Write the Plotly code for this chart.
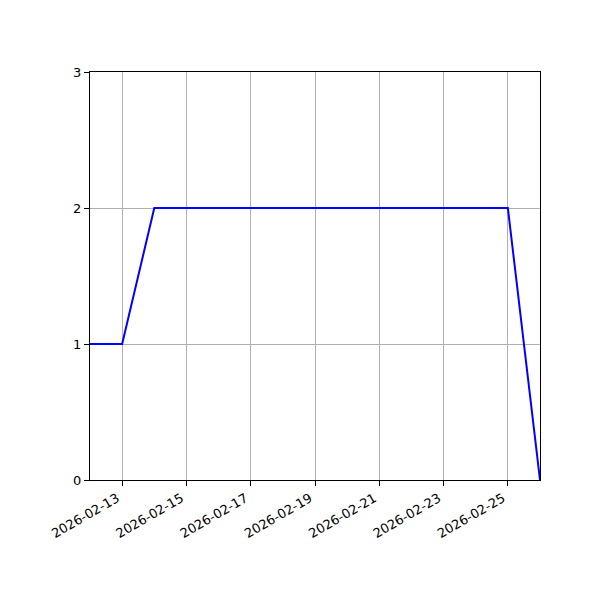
import plotly.graph_objects as go

dates = ["2026-02-12", "2026-02-13", "2026-02-14", "2026-02-15", "2026-02-16",
         "2026-02-17", "2026-02-18", "2026-02-19", "2026-02-20", "2026-02-21",
         "2026-02-22", "2026-02-23", "2026-02-24", "2026-02-25", "2026-02-26"]
values = [1, 1, 2, 2, 2, 2, 2, 2, 2, 2, 2, 2, 2, 2, 0]
x_ticks = ["2026-02-13", "2026-02-15", "2026-02-17", "2026-02-19",
           "2026-02-21", "2026-02-23", "2026-02-25"]
y_ticks = [0, 1, 2, 3]

fig = go.Figure()
fig.add_trace(go.Scatter(x=dates, y=values, mode="lines",
                         line=dict(color="blue", width=2), showlegend=False))

# page body has an 8px default margin, so offset the plot margins accordingly
fig.update_layout(
    width=600, height=600,
    margin=dict(l=82, r=68, t=64, b=128, autoexpand=False),
    paper_bgcolor="white", plot_bgcolor="white",
    font=dict(family="DejaVu Sans", size=13, color="black"),
)
fig.update_xaxes(
    type="date", range=[dates[0], dates[-1]],
    tickvals=x_ticks, ticktext=x_ticks, tickangle=-30, automargin=False,
    ticklabelshift=-5,
    showgrid=True, gridcolor="#b0b0b0", gridwidth=1,
    showline=True, linecolor="black", linewidth=1, mirror=True,
    ticks="outside", ticklen=5, tickcolor="black", zeroline=False,
)
fig.update_yaxes(
    range=[0, 3], tickvals=y_ticks, automargin=False,
    showgrid=True, gridcolor="#b0b0b0", gridwidth=1,
    showline=True, linecolor="black", linewidth=1, mirror=True,
    ticks="outside", ticklen=5, tickcolor="black", zeroline=False,
)

fig.write_html("out.html")
